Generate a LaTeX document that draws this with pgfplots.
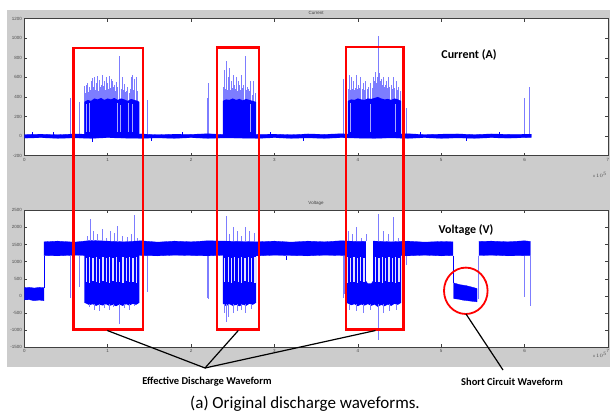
\documentclass[border=0pt]{standalone}
\usepackage{fontspec}
\setmainfont{Carlito}
\newfontfamily\arialfont{Liberation Sans}
\usepackage{pgfplots}
\pgfplotsset{compat=1.18}

\definecolor{figgray}{RGB}{204,204,204}
\definecolor{sig}{RGB}{0,0,255}
\definecolor{sigl}{RGB}{125,125,255}

\pgfplotsset{
  matlab/.style={
    scale only axis,
    width=583.7pt, height=137pt,
    anchor=south west,
    xmin=0, xmax=7, xtick={0,1,...,7},
    axis background/.style={fill=white},
    axis line style={black!75, line width=0.5pt},
    tick style={black!75, line width=0.4pt},
    tick align=inside, tick pos=both,
    major tick length=3pt,
    tick label style={font=\arialfont\fontsize{4.5}{5}\selectfont, text=black!70},
    /pgf/number format/assume math mode=true,
    /pgf/number format/1000 sep={},
    xticklabel style={yshift=1pt},
    yticklabel style={xshift=1pt},
    no markers,
  },
}

\begin{document}
\begin{tikzpicture}[x=1pt,y=1pt]
\path[use as bounding box] (0,0) rectangle (610,418);
\fill[figgray] (6.7,408) rectangle (610,51.3);

% ---------------- Current ----------------
\begin{axis}[matlab, at={(24.3pt,262.3pt)},
  ymin=-200, ymax=1200, ytick={-200,0,...,1200}]
  % spikes
  \addplot[sigl, line width=0.5pt, unbounded coords=jump] coordinates {
    (0.55,0)(0.55,390)(0.55,nan) (0.58,0)(0.58,560)(0.58,nan) (0.66,0)(0.66,350)(0.66,nan)
    (0.72,0)(0.72,510)(0.72,nan) (0.73,0)(0.73,440)(0.73,nan) (0.74,0)(0.74,520)(0.74,nan)
    (0.75,0)(0.75,470)(0.75,nan) (0.76,0)(0.76,540)(0.76,nan) (0.77,0)(0.77,450)(0.77,nan)
    (0.78,0)(0.78,500)(0.78,nan) (0.79,0)(0.79,470)(0.79,nan) (0.80,0)(0.80,560)(0.80,nan)
    (0.81,0)(0.81,480)(0.81,nan) (0.82,0)(0.82,590)(0.82,nan) (0.83,0)(0.83,500)(0.83,nan)
    (0.84,0)(0.84,600)(0.84,nan) (0.85,0)(0.85,470)(0.85,nan) (0.86,0)(0.86,540)(0.86,nan)
    (0.87,0)(0.87,490)(0.87,nan) (0.88,0)(0.88,610)(0.88,nan) (0.89,0)(0.89,460)(0.89,nan)
    (0.90,0)(0.90,570)(0.90,nan) (0.91,0)(0.91,500)(0.91,nan) (0.92,0)(0.92,520)(0.92,nan)
    (0.93,0)(0.93,480)(0.93,nan) (0.94,0)(0.94,620)(0.94,nan) (0.95,0)(0.95,510)(0.95,nan)
    (0.96,0)(0.96,560)(0.96,nan) (0.97,0)(0.97,470)(0.97,nan) (0.98,0)(0.98,600)(0.98,nan)
    (0.99,0)(0.99,500)(0.99,nan) (1.00,0)(1.00,540)(1.00,nan) (1.01,0)(1.01,480)(1.01,nan)
    (1.02,0)(1.02,610)(1.02,nan) (1.03,0)(1.03,490)(1.03,nan) (1.04,0)(1.04,580)(1.04,nan)
    (1.05,0)(1.05,470)(1.05,nan) (1.06,0)(1.06,560)(1.06,nan) (1.07,0)(1.07,500)(1.07,nan)
    (1.08,0)(1.08,520)(1.08,nan) (1.09,0)(1.09,460)(1.09,nan) (1.10,0)(1.10,550)(1.10,nan)
    (1.12,0)(1.12,500)(1.12,nan) (1.14,0)(1.14,815)(1.14,nan) (1.16,0)(1.16,480)(1.16,nan)
    (1.17,0)(1.17,440)(1.17,nan) (1.18,0)(1.18,600)(1.18,nan) (1.19,0)(1.19,470)(1.19,nan)
    (1.20,0)(1.20,530)(1.20,nan) (1.21,0)(1.21,450)(1.21,nan) (1.22,0)(1.22,460)(1.22,nan)
    (1.24,0)(1.24,500)(1.24,nan) (1.26,0)(1.26,440)(1.26,nan) (1.27,0)(1.27,480)(1.27,nan)
    (1.28,0)(1.28,600)(1.28,nan) (1.30,0)(1.30,620)(1.30,nan) (1.31,0)(1.31,470)(1.31,nan)
    (1.32,0)(1.32,580)(1.32,nan) (1.34,0)(1.34,600)(1.34,nan) (1.35,0)(1.35,460)(1.35,nan)
    (1.36,0)(1.36,450)(1.36,nan) (1.47,0)(1.47,370)(1.47,nan)
    (2.19,0)(2.19,390)(2.19,nan) (2.21,0)(2.21,545)(2.21,nan)
    (2.38,0)(2.38,500)(2.38,nan) (2.39,0)(2.39,450)(2.39,nan) (2.40,0)(2.40,680)(2.40,nan)
    (2.41,0)(2.41,480)(2.41,nan) (2.42,0)(2.42,765)(2.42,nan) (2.43,0)(2.43,470)(2.43,nan)
    (2.44,0)(2.44,600)(2.44,nan) (2.45,0)(2.45,500)(2.45,nan) (2.46,0)(2.46,700)(2.46,nan)
    (2.47,0)(2.47,470)(2.47,nan) (2.48,0)(2.48,560)(2.48,nan) (2.49,0)(2.49,490)(2.49,nan)
    (2.50,0)(2.50,620)(2.50,nan) (2.51,0)(2.51,470)(2.51,nan) (2.52,0)(2.52,520)(2.52,nan)
    (2.53,0)(2.53,480)(2.53,nan) (2.54,0)(2.54,600)(2.54,nan) (2.55,0)(2.55,460)(2.55,nan)
    (2.56,0)(2.56,560)(2.56,nan) (2.57,0)(2.57,480)(2.57,nan) (2.58,0)(2.58,520)(2.58,nan)
    (2.59,0)(2.59,470)(2.59,nan) (2.60,0)(2.60,620)(2.60,nan) (2.61,0)(2.61,490)(2.61,nan)
    (2.62,0)(2.62,520)(2.62,nan) (2.63,0)(2.63,460)(2.63,nan) (2.65,0)(2.65,822)(2.65,nan)
    (2.66,0)(2.66,470)(2.66,nan) (2.67,0)(2.67,500)(2.67,nan) (2.68,0)(2.68,450)(2.68,nan)
    (2.69,0)(2.69,480)(2.69,nan) (2.70,0)(2.70,460)(2.70,nan) (2.71,0)(2.71,560)(2.71,nan)
    (2.73,0)(2.73,420)(2.73,nan) (2.75,0)(2.75,560)(2.75,nan) (2.77,0)(2.77,440)(2.77,nan)
    (3.82,0)(3.82,580)(3.82,nan) (3.86,0)(3.86,500)(3.86,nan) (3.88,0)(3.88,460)(3.88,nan)
    (3.89,0)(3.89,480)(3.89,nan) (3.90,0)(3.90,620)(3.90,nan) (3.91,0)(3.91,470)(3.91,nan)
    (3.92,0)(3.92,600)(3.92,nan) (3.93,0)(3.93,480)(3.93,nan) (3.94,0)(3.94,500)(3.94,nan)
    (3.95,0)(3.95,560)(3.95,nan) (3.96,0)(3.96,470)(3.96,nan) (3.97,0)(3.97,490)(3.97,nan)
    (3.98,0)(3.98,620)(3.98,nan) (3.99,0)(3.99,480)(3.99,nan) (4.00,0)(4.00,520)(4.00,nan)
    (4.01,0)(4.01,470)(4.01,nan) (4.02,0)(4.02,490)(4.02,nan) (4.03,0)(4.03,600)(4.03,nan)
    (4.05,0)(4.05,480)(4.05,nan) (4.06,0)(4.06,540)(4.06,nan) (4.08,0)(4.08,470)(4.08,nan)
    (4.09,0)(4.09,560)(4.09,nan) (4.11,0)(4.11,480)(4.11,nan) (4.12,0)(4.12,500)(4.12,nan)
    (4.15,0)(4.15,540)(4.15,nan) (4.17,0)(4.17,490)(4.17,nan) (4.18,0)(4.18,600)(4.18,nan)
    (4.19,0)(4.19,500)(4.19,nan) (4.20,0)(4.20,560)(4.20,nan) (4.21,0)(4.21,660)(4.21,nan)
    (4.22,0)(4.22,540)(4.22,nan) (4.23,0)(4.23,600)(4.23,nan) (4.24,0)(4.24,1020)(4.24,nan)
    (4.25,0)(4.25,620)(4.25,nan) (4.26,0)(4.26,640)(4.26,nan) (4.27,0)(4.27,560)(4.27,nan)
    (4.28,0)(4.28,580)(4.28,nan) (4.29,0)(4.29,520)(4.29,nan) (4.30,0)(4.30,560)(4.30,nan)
    (4.31,0)(4.31,600)(4.31,nan) (4.32,0)(4.32,500)(4.32,nan) (4.33,0)(4.33,520)(4.33,nan)
    (4.34,0)(4.34,560)(4.34,nan) (4.35,0)(4.35,490)(4.35,nan) (4.37,0)(4.37,600)(4.37,nan)
    (4.38,0)(4.38,500)(4.38,nan) (4.40,0)(4.40,520)(4.40,nan) (4.41,0)(4.41,480)(4.41,nan)
    (4.43,0)(4.43,600)(4.43,nan) (4.44,0)(4.44,490)(4.44,nan) (4.46,0)(4.46,560)(4.46,nan)
    (4.47,0)(4.47,470)(4.47,nan) (4.49,0)(4.49,500)(4.49,nan) (4.51,0)(4.51,460)(4.51,nan)
    (4.58,0)(4.58,290)(4.58,nan)
    (6.00,0)(6.00,390)(6.00,nan) (6.05,0)(6.05,500)
  };
  % dense cores
  \addplot[fill=sig, draw=none] coordinates {(0.72,0)(0.72,350)(0.76,370)(0.80,360)(0.84,385)(0.88,375)(0.92,390)(0.96,370)(1.00,385)(1.04,375)(1.08,390)(1.12,370)(1.16,385)(1.20,375)(1.24,360)(1.28,380)(1.32,370)(1.36,360)(1.38,350)(1.38,0)};
  \addplot[fill=sig, draw=none] coordinates {(2.38,0)(2.38,360)(2.42,375)(2.46,370)(2.50,385)(2.54,370)(2.58,380)(2.62,365)(2.66,380)(2.70,370)(2.74,360)(2.78,350)(2.78,0)};
  \addplot[fill=sig, draw=none] coordinates {(3.88,0)(3.88,360)(3.92,375)(3.96,370)(4.00,385)(4.04,375)(4.08,370)(4.12,385)(4.16,380)(4.20,390)(4.24,400)(4.28,385)(4.32,375)(4.36,380)(4.40,370)(4.44,385)(4.48,375)(4.52,360)(4.52,0)};
  % gaps inside cores
  \addplot[blue!35, line width=0.7pt, unbounded coords=jump] coordinates {
    (0.745,40)(0.745,330)(0.745,nan) (0.775,40)(0.775,340)(0.775,nan)
    (1.115,40)(1.115,340)(1.115,nan) (1.155,40)(1.155,320)(1.155,nan)
    (1.245,40)(1.245,340)(1.245,nan) (1.295,40)(1.295,330)(1.295,nan)
    (2.715,40)(2.715,330)(2.715,nan)
    (3.905,40)(3.905,340)(3.905,nan) (4.145,40)(4.145,330)(4.145,nan)
    (4.445,40)(4.445,330)
  };
  % baseline
  \addplot[fill=sig, draw=sig, line width=0.3pt] coordinates {
    (0,16)(0.2,20)(0.4,14)(0.6,22)(0.8,18)(1.0,24)(1.2,16)(1.4,22)(1.6,14)(1.8,20)(2.0,18)(2.2,24)(2.4,16)(2.6,22)(2.8,18)(3.0,20)(3.2,14)(3.4,22)(3.6,18)(3.8,24)(4.0,16)(4.2,22)(4.4,18)(4.6,24)(4.8,16)(5.0,20)(5.2,22)(5.4,16)(5.6,22)(5.8,18)(6.08,20)
    (6.08,-14)(5.8,-20)(5.6,-16)(5.4,-22)(5.2,-18)(5.0,-22)(4.8,-16)(4.6,-22)(4.4,-18)(4.2,-22)(4.0,-20)(3.8,-16)(3.6,-22)(3.4,-18)(3.2,-22)(3.0,-16)(2.8,-22)(2.6,-20)(2.4,-18)(2.2,-22)(2.0,-16)(1.8,-22)(1.6,-18)(1.4,-22)(1.2,-20)(1.0,-16)(0.8,-22)(0.6,-18)(0.4,-22)(0.2,-16)(0,-20)
  };
  \addplot[sig, line width=0.5pt, unbounded coords=jump] coordinates {
    (0.10,0)(0.10,40)(0.10,nan) (0.35,0)(0.35,38)(0.35,nan) (0.81,0)(0.81,-60)(0.81,nan)
    (1.52,0)(1.52,-45)(1.52,nan) (1.90,0)(1.90,40)(1.90,nan) (2.95,0)(2.95,42)(2.95,nan)
    (3.35,0)(3.35,-45)(3.35,nan) (4.75,0)(4.75,40)(4.75,nan) (5.30,0)(5.30,-45)(5.30,nan)
    (5.70,0)(5.70,40)
  };
\end{axis}

% ---------------- Voltage ----------------
\begin{axis}[matlab, at={(24.3pt,70.7pt)},
  ymin=-1500, ymax=2500, ytick={-1500,-1000,...,2500}]
  % main band
  \addplot[fill=sig, draw=sig, line width=0.3pt] coordinates {
    (0.235,1580)(0.4,1600)(0.6,1570)(0.8,1620)(1.0,1600)(1.2,1580)(1.4,1610)(1.6,1570)(1.8,1600)(2.0,1580)(2.2,1610)(2.4,1600)(2.6,1590)(2.8,1580)(3.0,1600)(3.2,1570)(3.4,1600)(3.6,1580)(3.8,1610)(4.0,1590)(4.2,1600)(4.4,1580)(4.6,1600)(4.8,1570)(5.0,1590)(5.14,1580)
    (5.14,1180)(5.0,1170)(4.8,1190)(4.6,1170)(4.4,1180)(4.2,1190)(4.0,1170)(3.8,1180)(3.6,1190)(3.4,1170)(3.2,1180)(3.0,1190)(2.8,1170)(2.6,1180)(2.4,1190)(2.2,1170)(2.0,1180)(1.8,1190)(1.6,1170)(1.4,1180)(1.2,1190)(1.0,1170)(0.8,1180)(0.6,1190)(0.4,1170)(0.235,1180)
  };
  \addplot[fill=sig, draw=sig, line width=0.3pt] coordinates {
    (5.45,1590)(5.6,1600)(5.8,1580)(6.0,1610)(6.07,1590)(6.07,1180)(5.8,1170)(5.6,1190)(5.45,1180)
  };
  % initial level
  \addplot[fill=sig, draw=sig, line width=0.3pt] coordinates {
    (0,-120)(0,240)(0.06,250)(0.12,230)(0.18,250)(0.235,240)(0.235,-140)(0.18,-120)(0.12,-140)(0.06,-110)
  };
  % short circuit level
  \addplot[fill=sig, draw=sig, line width=0.3pt] coordinates {
    (5.15,-80)(5.15,380)(5.22,330)(5.30,300)(5.38,250)(5.43,215)(5.43,-175)(5.35,-150)(5.25,-120)
  };
  % discharge bursts
  \addplot[fill=sig, draw=none] coordinates {(0.72,1300)(1.38,1300)(1.38,-200)(1.34,-260)(1.30,-230)(1.26,-280)(1.22,-240)(1.18,-290)(1.14,-250)(1.10,-300)(1.06,-260)(1.02,-290)(0.98,-240)(0.94,-280)(0.90,-250)(0.86,-290)(0.82,-240)(0.78,-270)(0.74,-220)(0.72,-200)};
  \addplot[fill=sig, draw=none] coordinates {(2.38,1300)(2.78,1300)(2.78,-200)(2.74,-260)(2.70,-230)(2.66,-290)(2.62,-250)(2.58,-300)(2.54,-260)(2.50,-290)(2.46,-240)(2.42,-300)(2.38,-220)};
  \addplot[fill=sig, draw=none] coordinates {(3.86,1300)(4.52,1300)(4.52,-200)(4.48,-260)(4.44,-230)(4.40,-290)(4.36,-250)(4.32,-300)(4.28,-260)(4.24,-320)(4.20,-250)(4.16,-290)(4.12,-240)(4.08,-280)(4.04,-250)(4.00,-300)(3.96,-240)(3.92,-270)(3.88,-220)(3.86,-200)};
  % light gaps inside bursts
  \addplot[blue!12, line width=1.3pt, unbounded coords=jump] coordinates {
    (0.745,420)(0.745,1100)(0.745,nan) (0.785,380)(0.785,1150)(0.785,nan)
    (0.825,450)(0.825,1120)(0.825,nan) (0.865,400)(0.865,1150)(0.865,nan)
    (0.905,380)(0.905,1080)(0.905,nan) (0.945,430)(0.945,1150)(0.945,nan)
    (0.985,400)(0.985,1120)(0.985,nan) (1.025,380)(1.025,1150)(1.025,nan)
    (1.065,450)(1.065,1100)(1.065,nan) (1.105,400)(1.105,1150)(1.105,nan)
    (1.145,420)(1.145,1000)(1.145,nan) (1.185,380)(1.185,1150)(1.185,nan)
    (1.225,440)(1.225,1120)(1.225,nan) (1.265,400)(1.265,1150)(1.265,nan)
    (1.305,420)(1.305,1100)(1.305,nan) (1.345,390)(1.345,1150)(1.345,nan)
    (2.405,420)(2.405,1120)(2.405,nan) (2.445,400)(2.445,1150)(2.445,nan)
    (2.485,380)(2.485,1100)(2.485,nan) (2.525,430)(2.525,1150)(2.525,nan)
    (2.565,400)(2.565,1120)(2.565,nan) (2.605,380)(2.605,1150)(2.605,nan)
    (2.645,440)(2.645,1100)(2.645,nan) (2.685,400)(2.685,1150)(2.685,nan)
    (2.725,420)(2.725,1120)(2.725,nan) (2.765,390)(2.765,1150)(2.765,nan)
    (3.875,380)(3.875,1150)(3.875,nan) (3.915,420)(3.915,1120)(3.915,nan)
    (3.955,400)(3.955,1150)(3.955,nan) (3.995,380)(3.995,1100)(3.995,nan)
    (4.035,430)(4.035,1150)(4.035,nan) (4.075,400)(4.075,1120)(4.075,nan)
    (4.215,420)(4.215,1150)(4.215,nan) (4.255,400)(4.255,1120)(4.255,nan)
    (4.295,380)(4.295,1150)(4.295,nan) (4.335,430)(4.335,1100)(4.335,nan)
    (4.375,400)(4.375,1150)(4.375,nan) (4.415,420)(4.415,1120)(4.415,nan)
    (4.455,390)(4.455,1150)(4.455,nan) (4.495,410)(4.495,1100)
  };
  \addplot[fill=white, draw=none] coordinates {(4.10,1620)(4.18,1620)(4.18,440)(4.16,370)(4.12,370)(4.10,440)};
  % spikes and transitions
  \addplot[sigl, line width=0.5pt, unbounded coords=jump] coordinates {
    (0.55,1180)(0.55,-70)(0.55,nan) (0.66,1180)(0.66,260)(0.66,nan)
    (0.76,1600)(0.76,1750)(0.76,nan) (0.79,1600)(0.79,2260)(0.79,nan) (0.83,1600)(0.83,1900)(0.83,nan)
    (0.88,1600)(0.88,1800)(0.88,nan) (0.93,1600)(0.93,1950)(0.93,nan) (0.98,1600)(0.98,1700)(0.98,nan)
    (1.03,1600)(1.03,1900)(1.03,nan) (1.08,1600)(1.08,1850)(1.08,nan) (1.12,1600)(1.12,2050)(1.12,nan)
    (1.18,1600)(1.18,1750)(1.18,nan) (1.24,1600)(1.24,1720)(1.24,nan) (1.28,1600)(1.28,1800)(1.28,nan)
    (1.32,1600)(1.32,2370)(1.32,nan) (1.36,1600)(1.36,1700)(1.36,nan)
    (0.78,-250)(0.78,-330)(0.78,nan) (0.84,-250)(0.84,-420)(0.84,nan) (0.90,-250)(0.90,-450)(0.90,nan)
    (0.96,-250)(0.96,-350)(0.96,nan) (1.02,-250)(1.02,-400)(1.02,nan) (1.07,-250)(1.07,-320)(1.07,nan)
    (1.14,-250)(1.14,-830)(1.14,nan) (1.20,-250)(1.20,-360)(1.20,nan) (1.26,-250)(1.26,-400)(1.26,nan)
    (1.32,-250)(1.32,-300)(1.32,nan)
    (1.47,1180)(1.47,120)(1.47,nan)
    (2.19,1180)(2.19,-70)(2.19,nan) (2.21,1180)(2.21,-100)(2.21,nan)
    (2.42,1600)(2.42,2320)(2.42,nan) (2.46,1600)(2.46,1800)(2.46,nan) (2.50,1600)(2.50,2000)(2.50,nan)
    (2.55,1600)(2.55,1900)(2.55,nan) (2.60,1600)(2.60,1750)(2.60,nan) (2.65,1600)(2.65,2000)(2.65,nan)
    (2.70,1600)(2.70,1900)(2.70,nan) (2.76,1600)(2.76,1850)(2.76,nan)
    (2.40,-250)(2.40,-500)(2.40,nan) (2.42,-250)(2.42,-760)(2.42,nan) (2.45,-250)(2.45,-620)(2.45,nan)
    (2.50,-250)(2.50,-500)(2.50,nan) (2.55,-250)(2.55,-450)(2.55,nan) (2.60,-250)(2.60,-400)(2.60,nan)
    (2.65,-250)(2.65,-500)(2.65,nan) (2.72,-250)(2.72,-380)(2.72,nan)
    (3.82,1180)(3.82,-70)(3.82,nan) (3.84,1180)(3.84,50)(3.84,nan)
    (3.88,1600)(3.88,1900)(3.88,nan) (3.93,1600)(3.93,1800)(3.93,nan) (3.98,1600)(3.98,2000)(3.98,nan)
    (4.04,1600)(4.04,1700)(4.04,nan) (4.10,1600)(4.10,1800)(4.10,nan) (4.24,1600)(4.24,2400)(4.24,nan)
    (4.30,1600)(4.30,1900)(4.30,nan) (4.36,1600)(4.36,1800)(4.36,nan) (4.43,1600)(4.43,2300)(4.43,nan)
    (4.48,1600)(4.48,1700)(4.48,nan)
    (3.90,-250)(3.90,-400)(3.90,nan) (3.98,-250)(3.98,-450)(3.98,nan) (4.06,-250)(4.06,-500)(4.06,nan)
    (4.15,-250)(4.15,-400)(4.15,nan) (4.24,-250)(4.24,-1290)(4.24,nan) (4.30,-250)(4.30,-500)(4.30,nan)
    (4.38,-250)(4.38,-450)(4.38,nan) (4.46,-250)(4.46,-400)(4.46,nan)
    (4.58,1180)(4.58,900)(4.58,nan)
    (5.44,-100)(5.44,1180)(5.44,nan)
    (6.00,1180)(6.00,-30)(6.00,nan) (6.07,1180)(6.07,-290)
  };
  \addplot[sig, line width=0.6pt, unbounded coords=jump] coordinates {
    (0.235,240)(0.235,1180)(0.235,nan) (3.14,1180)(3.14,1050)(3.14,nan) (5.145,1180)(5.145,380)
  };
\end{axis}

% panel titles and scale labels
\node[font=\arialfont\fontsize{4.5}{5}\selectfont, text=black!75] at (316,405) {Current};
\node[font=\arialfont\fontsize{4.5}{5}\selectfont, text=black!75] at (316,215) {Voltage};
\node[font=\arialfont\fontsize{4}{5}\selectfont, text=black!70] at (600,243) {x $10^5$};
\node[font=\arialfont\fontsize{4}{5}\selectfont, text=black!70] at (600,63) {x $10^5$};

% annotations
\node[font=\bfseries\fontsize{12}{14}\selectfont] at (469,363) {Current (A)};
\node[font=\bfseries\fontsize{12}{14}\selectfont] at (466,188) {Voltage (V)};
\draw[red, line width=2.4pt] (73.3,369.7) rectangle (142.7,88.7);
\draw[red, line width=2.4pt] (216.7,370.3) rectangle (259,88.7);
\draw[red, line width=2.4pt] (346,370.7) rectangle (403.3,88.7);
\draw[red, line width=1.8pt] (465.8,127.2) ellipse [x radius=21.8, y radius=23.2];
\draw[black, line width=1.2pt] (107.3,87.5) -- (205,50) -- (238.3,87.5);
\draw[black, line width=1.2pt] (375.5,87.5) -- (205,50);
\draw[black, line width=1.2pt] (466,104) -- (503,48);
\node[font=\bfseries\fontsize{10.5}{12}\selectfont] at (207,36) {Effective Discharge Waveform};
\node[font=\bfseries\fontsize{10.5}{12}\selectfont] at (512,36) {Short Circuit Waveform};
\node[font=\fontsize{17}{20}\selectfont] at (305,14) {(a) Original discharge waveforms.};
\end{tikzpicture}
\end{document}
